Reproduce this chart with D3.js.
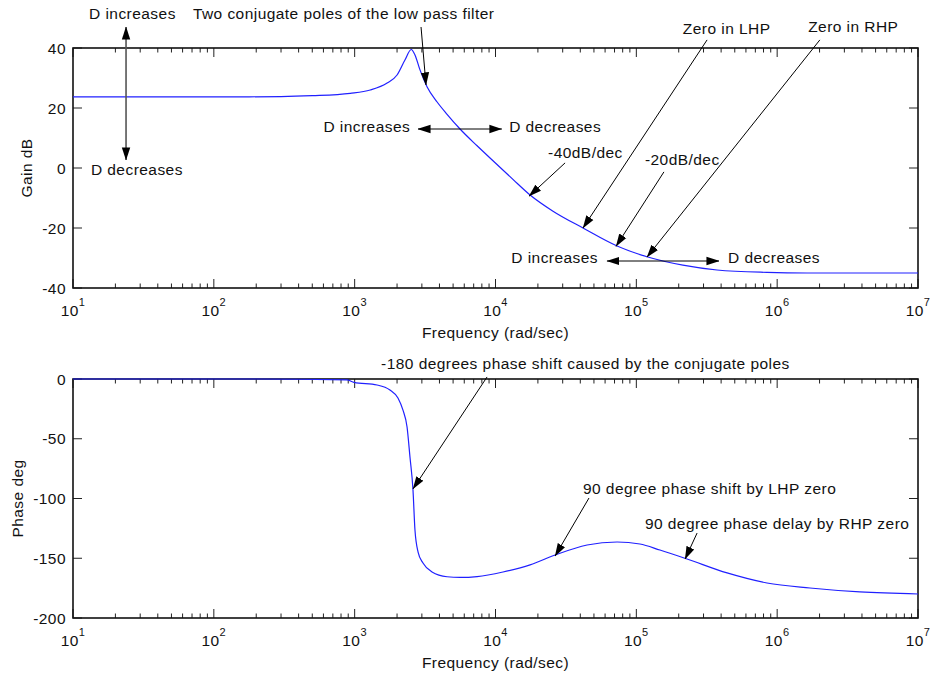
<!DOCTYPE html>
<html>
<head>
<meta charset="utf-8">
<script src="https://cdn.jsdelivr.net/npm/d3@7/dist/d3.min.js"></script>
<style>
  body { margin: 0; background: #fff; }
  text { font-family: "Liberation Sans", Arial, sans-serif; fill: #111; letter-spacing: 0.45px; }
</style>
</head>
<body>
<div id="bode"></div>
<script>
// values
var gainFreq = [10, 100, 300, 500, 930, 1290, 1700, 2000, 2275, 2520, 2680, 2910, 3270, 3850, 4530,
  5600, 7400, 9600, 13300, 17600, 25600, 41800, 73000, 119000, 214000, 374000, 847000, 1630000, 10000000];
var gainDb = [23.7, 23.7, 23.8, 24.1, 24.9, 26.0, 28.3, 31.0, 36.0, 39.5, 37.7, 32.7, 27.0, 22.0, 17.9,
  13.0, 7.4, 2.4, -3.8, -9.0, -14.4, -20.0, -26.0, -29.6, -32.4, -34.0, -34.8, -35.0, -35.0];

var phaseFreq = [10, 200, 880, 990, 1440, 1780, 2030, 2200, 2355, 2470, 2595, 2680, 2820, 3055, 3540,
  4530, 5600, 7400, 11300, 17600, 26500, 44700, 73000, 106000, 147000, 229000, 441000, 847000, 1710000, 3870000, 10000000];
var phaseDeg = [0, 0, -0.8, -2.8, -5.0, -9.2, -15.9, -25.9, -40.2, -65.3, -92.9, -126.4, -144.8, -154.0, -161.5,
  -165.5, -166.0, -165.3, -161.5, -155.6, -147.3, -138.9, -136.4, -138.1, -143.1, -150.6, -162.3, -170.7, -174.9, -178.2, -179.9];

var gainTicks = [40, 20, 0, -20, -40];
var phaseTicks = [0, -50, -100, -150, -200];
var decadeExp = [1, 2, 3, 4, 5, 6, 7];

// annotations, in data units (freq, value)
var gainNotes = [
  { t: "D increases", f: 13, v: 49.7, a: "start" },
  { t: "D decreases", f: 13.4, v: -2.3, a: "start" },
  { t: "Two conjugate poles of the low pass filter", f: 71, v: 49.7, a: "start" },
  { t: "D increases", f: 2480, v: 12, a: "end" },
  { t: "D decreases", f: 12500, v: 12, a: "start" },
  { t: "-40dB/dec", f: 23600, v: 3.3, a: "start" },
  { t: "-20dB/dec", f: 115000, v: 1.0, a: "start" },
  { t: "Zero in LHP", f: 214000, v: 44.7, a: "start" },
  { t: "Zero in RHP", f: 1660000, v: 45.3, a: "start" },
  { t: "D increases", f: 53500, v: -31.7, a: "end" },
  { t: "D decreases", f: 448000, v: -31.7, a: "start" }
];
var gainArrows = [
  { f1: 23.8, v1: 47, f2: 23.8, v2: 2.7, both: true, c: "#555", w: 1.6 },
  { f1: 2960, v1: 47, f2: 3210, v2: 27.7 },
  { f1: 2820, v1: 13, f2: 11100, v2: 13, both: true },
  { f1: 31200, v1: 1.7, f2: 17300, v2: -9.4 },
  { f1: 157000, v1: -1.3, f2: 71800, v2: -26.1 },
  { f1: 318000, v1: 42.7, f2: 41800, v2: -20 },
  { f1: 2010000, v1: 42.7, f2: 119000, v2: -29.7 },
  { f1: 61900, v1: -31, f2: 386000, v2: -31, both: true }
];
var phaseNotes = [
  { t: "-180 degrees phase shift caused by the conjugate poles", f: 1540, v: 8.4, a: "start" },
  { t: "90 degree phase shift by LHP zero", f: 41800, v: -96.2, a: "start" },
  { t: "90 degree phase delay by RHP zero", f: 115000, v: -125.5, a: "start" }
];
var phaseArrows = [
  { f1: 8710, v1: 1.7, f2: 2595, v2: -92 },
  { f1: 46100, v1: -99.6, f2: 26500, v2: -148.1 },
  { f1: 270000, v1: -128.9, f2: 222000, v2: -150.6 }
];

var W = 934, H = 678;
var left = 73, right = 918;

var svg = d3.select("#bode")
  .append("svg")
  .attr("width", W)
  .attr("height", H)
  .style("background", "#fff");

var defs = svg.append("defs");
defs.append("marker")
  .attr("id", "head")
  .attr("viewBox", "0 -5 13 10")
  .attr("refX", 12.5)
  .attr("refY", 0)
  .attr("markerUnits", "userSpaceOnUse")
  .attr("markerWidth", 13)
  .attr("markerHeight", 10)
  .attr("orient", "auto-start-reverse")
  .append("path")
  .attr("d", "M0,-4.2L13,0L0,4.2Z")
  .attr("fill", "#000");

var x = d3.scaleLog()
  .domain([10, 1e7])
  .range([left, right]);

function panel(top, bottom, yDomain, yTicks, yLabel, labelX, fr, vals, notes, arrows) {
  var y = d3.scaleLinear().domain(yDomain).range([bottom, top]);
  var g = svg.append("g");

  // minor + major ticks on x (bottom up, top down)
  var minor = [];
  decadeExp.forEach(function (e) {
    if (e == 7) return;
    for (var k = 2; k <= 9; k++) minor.push(k * Math.pow(10, e));
  });
  var major = decadeExp.map(function (e) { return Math.pow(10, e); });

  minor.forEach(function (f) {
    g.append("line").attr("x1", x(f)).attr("x2", x(f)).attr("y1", bottom).attr("y2", bottom - 4.5)
      .attr("stroke", "#222");
    g.append("line").attr("x1", x(f)).attr("x2", x(f)).attr("y1", top).attr("y2", top + 4.5)
      .attr("stroke", "#222");
  });
  major.forEach(function (f) {
    g.append("line").attr("x1", x(f)).attr("x2", x(f)).attr("y1", bottom).attr("y2", bottom - 9)
      .attr("stroke", "#222");
    g.append("line").attr("x1", x(f)).attr("x2", x(f)).attr("y1", top).attr("y2", top + 9)
      .attr("stroke", "#222");
  });

  // decade labels 10^n
  decadeExp.forEach(function (e) {
    var t = g.append("text")
      .attr("x", x(Math.pow(10, e)))
      .attr("y", bottom + 28)
      .attr("text-anchor", "middle")
      .style("font-size", "15.5px")
      .text("10");
    t.append("tspan")
      .attr("dy", -10)
      .style("font-size", "11px")
      .text(e);
  });

  // y ticks both sides
  yTicks.forEach(function (v) {
    g.append("line").attr("x1", left).attr("x2", left + 9).attr("y1", y(v)).attr("y2", y(v))
      .attr("stroke", "#222");
    g.append("line").attr("x1", right).attr("x2", right - 9).attr("y1", y(v)).attr("y2", y(v))
      .attr("stroke", "#222");
    g.append("text")
      .attr("x", left - 7)
      .attr("y", y(v))
      .attr("dy", "0.36em")
      .attr("text-anchor", "end")
      .style("font-size", "15.5px")
      .text(v);
  });

  // box
  g.append("rect")
    .attr("x", left).attr("y", top)
    .attr("width", right - left).attr("height", bottom - top)
    .attr("fill", "none")
    .attr("stroke", "#111")
    .attr("stroke-width", 1.6);

  // axis titles
  g.append("text")
    .attr("transform", "translate(" + labelX + "," + ((top + bottom) / 2) + ") rotate(-90)")
    .attr("text-anchor", "middle")
    .style("font-size", "15.5px")
    .text(yLabel);
  g.append("text")
    .attr("x", (left + right) / 2)
    .attr("y", bottom + 50)
    .attr("text-anchor", "middle")
    .style("font-size", "15.5px")
    .text("Frequency (rad/sec)");

  // the response curve
  var pts = fr.map(function (f, i) { return [f, vals[i]]; });
  g.append("path")
    .datum(pts)
    .attr("fill", "none")
    .attr("stroke", "#2020ff")
    .attr("stroke-width", 1.2)
    .attr("d", d3.line()
      .x(function (d) { return x(d[0]); })
      .y(function (d) { return y(d[1]); })
      .curve(d3.curveMonotoneX)
    );

  // arrows and notes
  arrows.forEach(function (a) {
    var l = g.append("line")
      .attr("x1", x(a.f1)).attr("y1", y(a.v1))
      .attr("x2", x(a.f2)).attr("y2", y(a.v2))
      .attr("stroke", a.c || "#000")
      .attr("stroke-width", a.w || 1)
      .attr("marker-end", "url(#head)");
    if (a.both) l.attr("marker-start", "url(#head)");
  });
  notes.forEach(function (n) {
    g.append("text")
      .attr("x", x(n.f))
      .attr("y", y(n.v))
      .attr("text-anchor", n.a)
      .style("font-size", "15.5px")
      .text(n.t);
  });
}

panel(48, 288, [-40, 40], gainTicks, "Gain dB", 32, gainFreq, gainDb, gainNotes, gainArrows);
panel(379, 618, [-200, 0], phaseTicks, "Phase deg", 23, phaseFreq, phaseDeg, phaseNotes, phaseArrows);
</script>
</body>
</html>
